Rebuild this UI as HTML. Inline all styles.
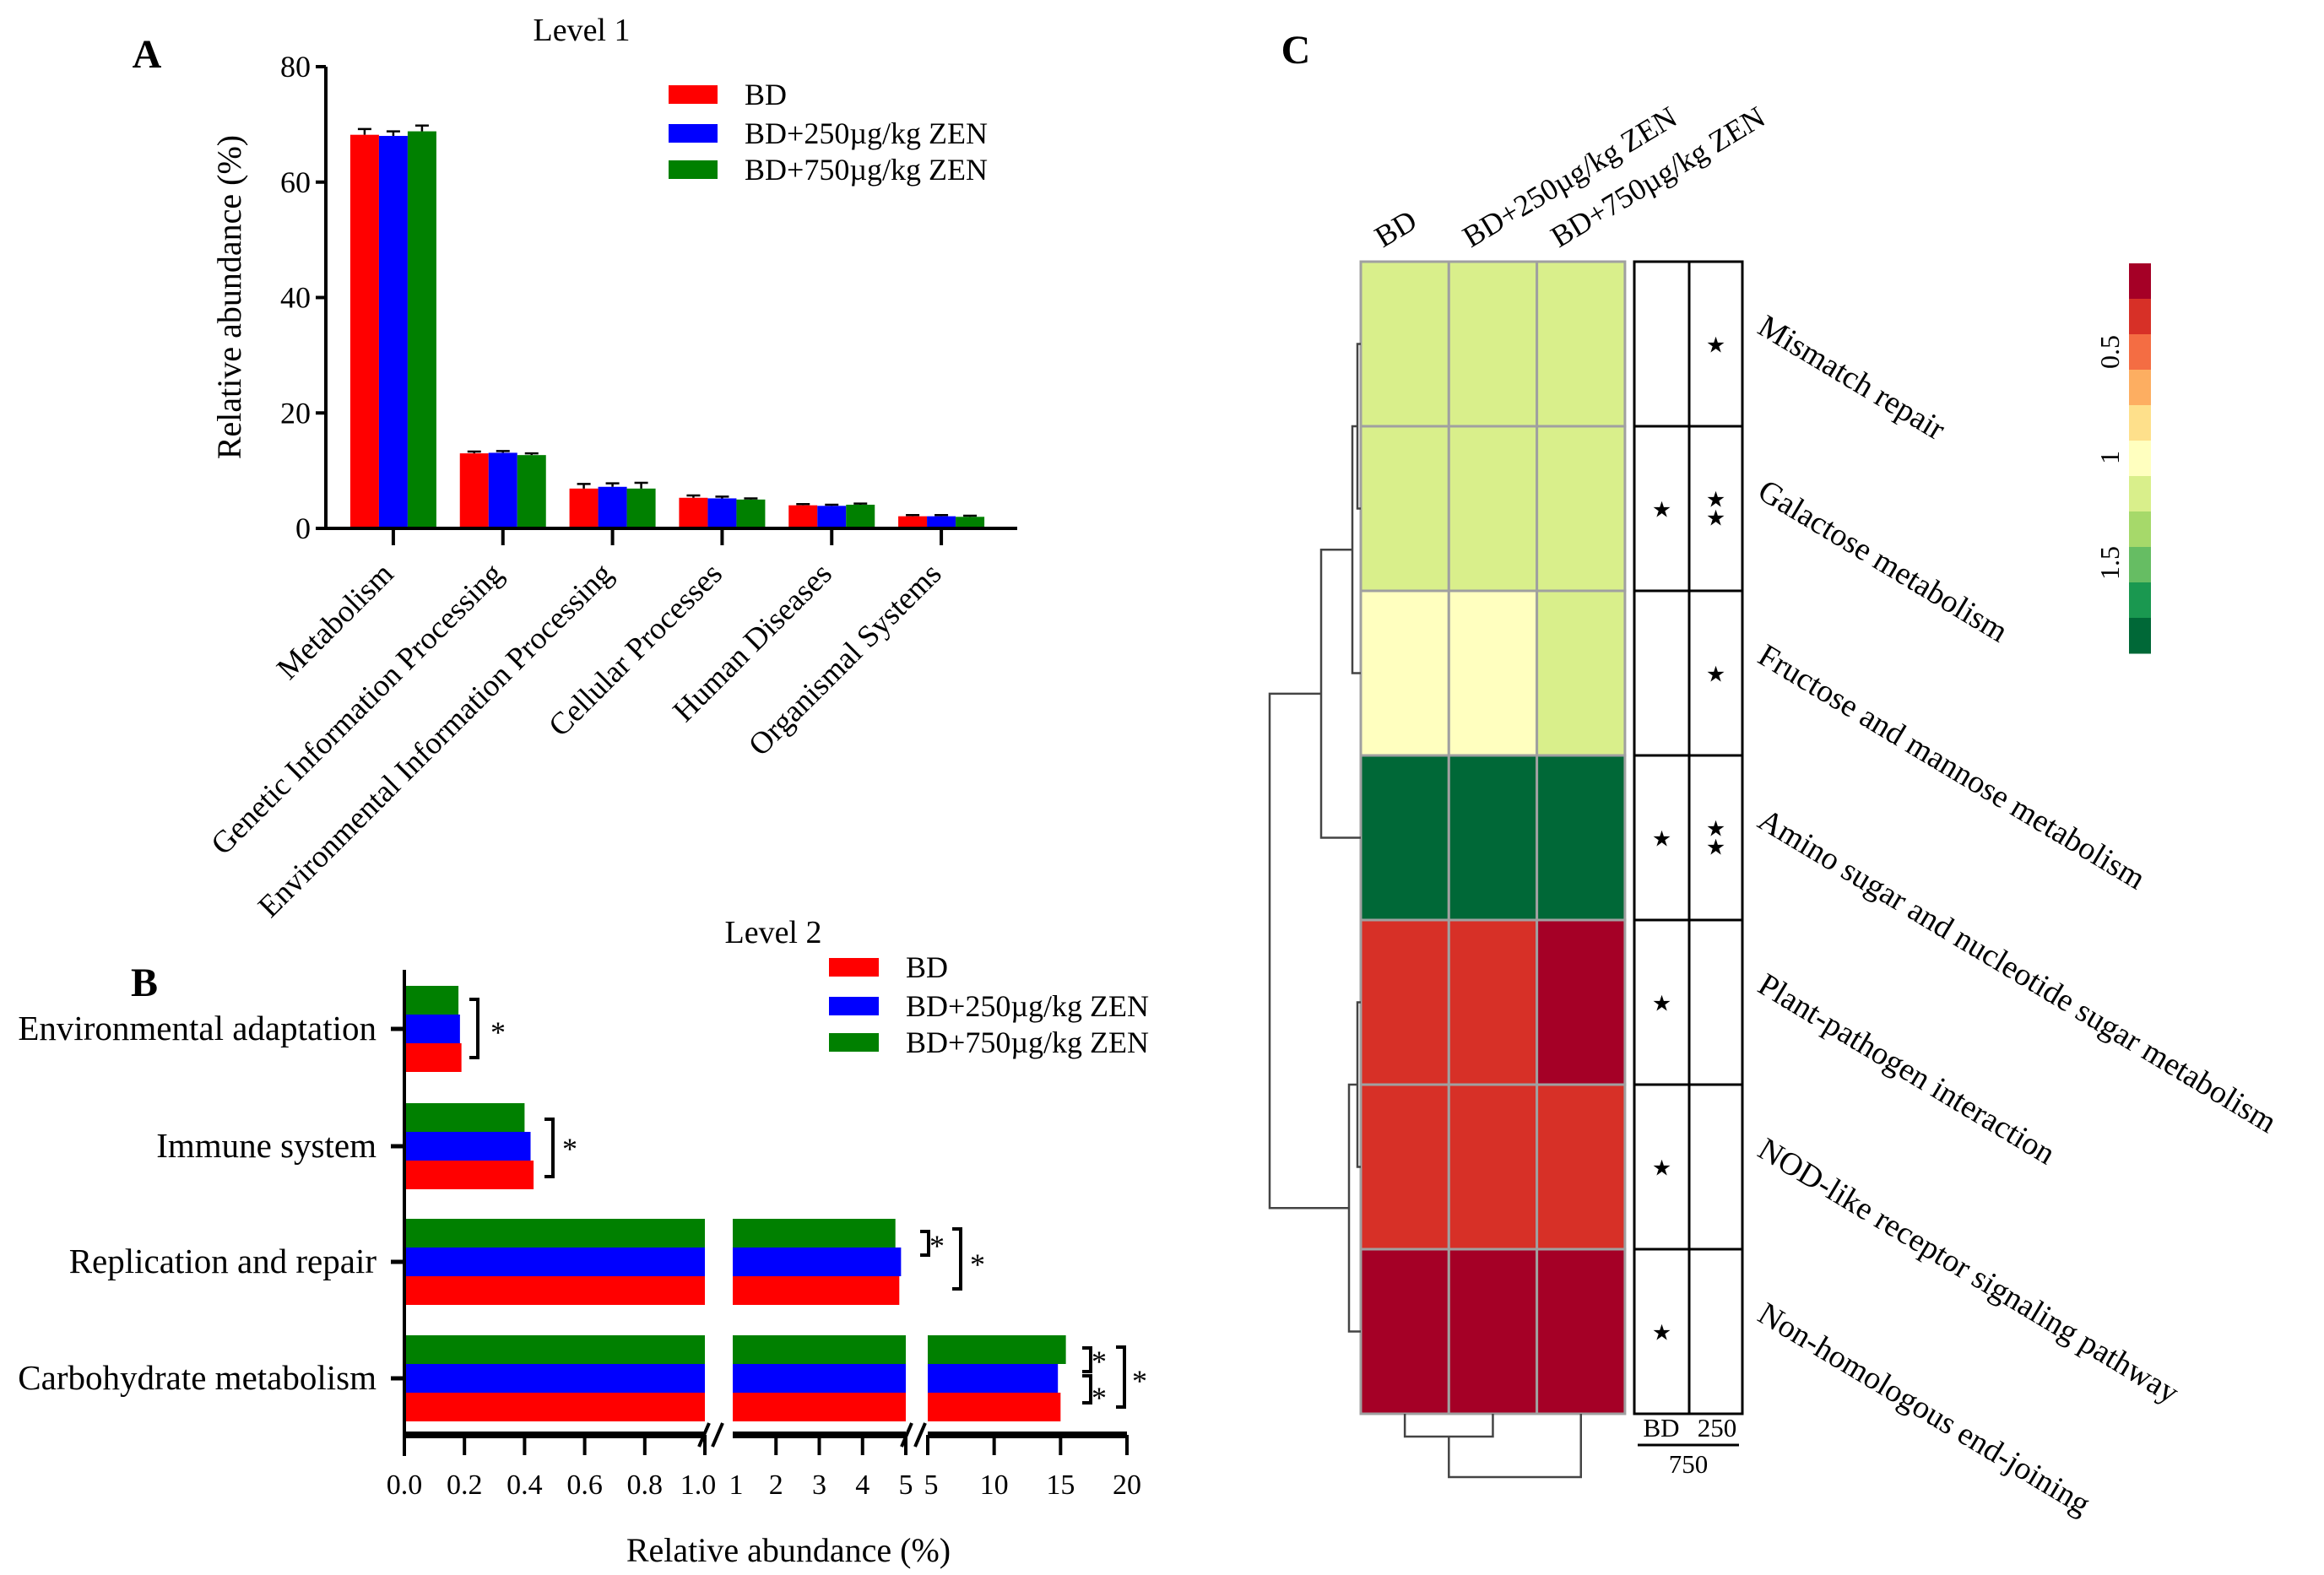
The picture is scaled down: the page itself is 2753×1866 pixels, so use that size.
<!DOCTYPE html>
<html><head><meta charset="utf-8"><style>
html,body{margin:0;padding:0;background:#fff}
svg{display:block;font-family:"Liberation Serif",serif}
</style></head><body>
<svg id="fig" width="2753" height="1866" viewBox="0 0 2753 1866" xmlns="http://www.w3.org/2000/svg">
<g id="pa"></g>
<g id="pb"></g>
<g id="pc"></g>
</svg>
<script>
// ---------- Panel A data ----------
const aCategories = ["Metabolism","Genetic Information Processing","Environmental Information Processing","Cellular Processes","Human Diseases","Organismal Systems"];
const aBD = [68.2, 13.0, 6.9, 5.3, 4.0, 2.1];
const a250 = [68.0, 13.1, 7.2, 5.2, 3.9, 2.1];
const a750 = [68.8, 12.7, 6.9, 5.0, 4.1, 2.0];
const aErr = [[1.0,0.3,0.8,0.4,0.2,0.2],[0.8,0.3,0.6,0.3,0.2,0.2],[1.0,0.3,1.0,0.2,0.2,0.2]];
const aTicks = [0,20,40,60,80];
const seriesNames = ["BD","BD+250µg/kg ZEN","BD+750µg/kg ZEN"];
const colors = ["#ff0000","#0000ff","#008000"];

// ---------- Panel B data ----------
const bCategories = ["Environmental adaptation","Immune system","Replication and repair","Carbohydrate metabolism"];
const bBD = [0.19, 0.43, 4.85, 15.0];
const b250 = [0.185, 0.42, 4.89, 14.8];
const b750 = [0.18, 0.40, 4.76, 15.4];
const bTicks1 = ["0.0","0.2","0.4","0.6","0.8","1.0"];
const bTicks2 = ["1","2","3","4","5"];
const bTicks3 = ["5","10","15","20"];

// ---------- Panel C data ----------
const cRows = ["Mismatch repair","Galactose metabolism","Fructose and mannose metabolism","Amino sugar and nucleotide sugar metabolism","Plant-pathogen interaction","NOD-like receptor signaling pathway","Non-homologous end-joining"];
const cCols = ["BD","BD+250µg/kg ZEN","BD+750µg/kg ZEN"];
const cValues = [[1.2,1.2,1.2],[1.2,1.2,1.2],[1.0,1.0,1.2],[2.0,2.0,2.0],[0.3,0.3,0.1],[0.3,0.3,0.3],[0.1,0.1,0.1]];
const cSigBD = [0,1,0,1,1,1,1];
const cSig250 = [1,2,1,2,0,0,0];
const cScaleColors = ["#a50026","#d73027","#f46d43","#fdae61","#fee08b","#ffffbf","#d9ef8b","#a6d96a","#66bd63","#1a9850","#006837"];
const cScaleTicks = ["0.5","1","1.5"];

const NS="http://www.w3.org/2000/svg";
function mk(parent,tag,attrs,text){const e=document.createElementNS(NS,tag);for(const k in attrs)e.setAttribute(k,attrs[k]);if(text!==undefined)e.textContent=text;parent.appendChild(e);return e;}

// ===== Panel A =====
(function(){
const g=document.getElementById('pa');
const x0=386,x1=1205,y0=626,yTop=79;
const ya=v=>y0-(v/80)*(y0-yTop);
const grpW=(x1-x0-40)/aCategories.length;
const gc=i=>x0+20+grpW*(i+0.5)-5;
const bw=34;
let t;
t=mk(g,'text',{x:174,y:80,'font-size':48,'font-weight':'bold','text-anchor':'middle'},'A');

t=mk(g,'text',{x:689,y:48,'font-size':38,'text-anchor':'middle'},'Level 1');

t=mk(g,'text',{x:0,y:0,'font-size':40,'text-anchor':'middle',transform:'translate(285,352) rotate(-90)'},'Relative abundance (%)');

const series=[aBD,a250,a750];
series.forEach((s,si)=>{s.forEach((v,i)=>{
 const x=gc(i)+(si-1)*bw-bw/2;
 const r=mk(g,'rect',{x:x,y:ya(v),width:bw,height:y0-ya(v),fill:colors[si]});
 
 const ey=ya(v+aErr[si][i]);
 const l=mk(g,'path',{d:`M${x+bw/2},${ya(v)}V${ey}M${x+bw/2-8},${ey}H${x+bw/2+8}`,stroke:'#000','stroke-width':2.5,fill:'none'});
 
});});
let ax=mk(g,'path',{d:`M${x0},${yTop}V${y0}H${x1}`,stroke:'#000','stroke-width':4,fill:'none'});

aTicks.forEach(v=>{
 const tk=mk(g,'path',{d:`M${x0-12},${ya(v)}H${x0}`,stroke:'#000','stroke-width':4});
 
 const tl=mk(g,'text',{x:x0-18,y:ya(v)+12,'font-size':36,'text-anchor':'end'},String(v));
 
});
aCategories.forEach((c,i)=>{
 const x=gc(i);
 const tk=mk(g,'path',{d:`M${x},${y0}V${y0+20}`,stroke:'#000','stroke-width':4});
 
 const tl=mk(g,'text',{x:0,y:0,'font-size':37,'text-anchor':'end',transform:`translate(${x+2},${y0+56}) rotate(-45)`},c);
 
});
const ly=[112,158,201];
seriesNames.forEach((n,i)=>{
 const r=mk(g,'rect',{x:792,y:ly[i]-11,width:58,height:22,fill:colors[i]});
 
 const tl=mk(g,'text',{x:882,y:ly[i]+12,'font-size':36},n);
 
});
})();

// ===== Panel B =====
(function(){
const g=document.getElementById('pb');
const xA=479,yTop=1149,yAx=1700;
function bx(v){
 if(v<=1) return 479+(v/1)*(835-479);
 if(v<=5) return 868+(v-1)/4*(1073-868);
 return 1099+(v-5)/15*(1335-1099);
}
const cy=[1219,1358,1495,1633];
const bh=34;
let t;
t=mk(g,'text',{x:171,y:1180,'font-size':48,'font-weight':'bold','text-anchor':'middle'},'B');

t=mk(g,'text',{x:916,y:1117,'font-size':38,'text-anchor':'middle'},'Level 2');

const series=[b750,b250,bBD];const sc=[colors[2],colors[1],colors[0]];
series.forEach((s,si)=>{s.forEach((v,i)=>{
 const y=cy[i]-1.5*bh+si*bh;
 const segs=[[0,1],[1,5],[5,20]];
 segs.forEach(([a,b],k)=>{
  if(v<=a && k>0) return;
  const xs=(k==0)?bx(0):(k==1?868:1099);
  const xe=(v>=b)?(k==0?835:(k==1?1073:1335)):bx(v);
  const r=mk(g,'rect',{x:xs,y:y,width:Math.max(0,xe-xs),height:bh,fill:sc[si]});
  
 });
});});
let ax=mk(g,'path',{d:`M${xA},${yTop}V${yAx+25}`,stroke:'#000','stroke-width':4,fill:'none'});

[[479,835],[868,1073],[1099,1335]].forEach(([a,b])=>{
 const l=mk(g,'path',{d:`M${a},${yAx}H${b}`,stroke:'#000','stroke-width':8});
 
});
[[840],[1080]].forEach(([x])=>{
 const l=mk(g,'path',{d:`M${x-12},${yAx+14}L${x},${yAx-14}M${x+4},${yAx+14}L${x+16},${yAx-14}`,stroke:'#000','stroke-width':4});
 
});
const FS=34;
const addTick=(v,lab,dx)=>{
 const x=bx(v);
 const tk=mk(g,'path',{d:`M${x},${yAx}V${yAx+24}`,stroke:'#000','stroke-width':4});
 
 const tl=mk(g,'text',{x:x+(dx||0),y:1770,'font-size':FS,'text-anchor':'middle'},lab);
 
};
bTicks1.forEach(l=>addTick(parseFloat(l),l,l==="1.0"?-8:0));
bTicks2.forEach((l,i)=>{if(i==0){const tl=mk(g,'text',{x:872,y:1770,'font-size':FS,'text-anchor':'middle'},l);}else{const x=868+(parseFloat(l)-1)/4*(1073-868);const tk=mk(g,'path',{d:`M${x},${yAx}V${yAx+24}`,stroke:'#000','stroke-width':4});const tl=mk(g,'text',{x:x,y:1770,'font-size':FS,'text-anchor':'middle'},l);}});
bTicks3.forEach((l,i)=>{const x=1099+(parseFloat(l)-5)/15*(1335-1099);const tk=mk(g,'path',{d:`M${x},${yAx}V${yAx+24}`,stroke:'#000','stroke-width':4});const tl=mk(g,'text',{x:x+(i==0?4:0),y:1770,'font-size':FS,'text-anchor':'middle'},l);});
t=mk(g,'text',{x:934,y:1850,'font-size':40,'text-anchor':'middle'},'Relative abundance (%)');

bCategories.forEach((c,i)=>{
 const tk=mk(g,'path',{d:`M${xA-16},${cy[i]}H${xA}`,stroke:'#000','stroke-width':5});
 
 const tl=mk(g,'text',{x:446,y:cy[i]+13,'font-size':41,'text-anchor':'end'},c);
 
});
const ly=[1146,1192,1235];
seriesNames.forEach((n,i)=>{
 const r=mk(g,'rect',{x:982,y:ly[i]-11,width:59,height:22,fill:colors[i]});
 
 const tl=mk(g,'text',{x:1073,y:ly[i]+12,'font-size':36},n);
 
});
const br=(x,ya,yb,sx,sy)=>{
 const p=mk(g,'path',{d:`M${x-10},${ya}H${x}V${yb}H${x-10}`,stroke:'#000','stroke-width':4,fill:'none'});
 
 const s=mk(g,'text',{x:sx,y:sy,'font-size':36,'text-anchor':'middle'},'*');
 
};
br(566,1184,1253,590,1235);
br(655,1326,1394,675,1373);
br(1100,1459,1487,1110,1488);
br(1138,1456,1527,1158,1510);
br(1292,1597,1625,1302,1625);
br(1292,1630,1662,1302,1668);
br(1332,1596,1667,1350,1648);
})();

// ===== Panel C =====
(function(){
const g=document.getElementById('pc');
const hx=1612,hy=310,cw=104.3,rh=195;
const colorOf=v=>cScaleColors[Math.max(0,Math.min(10,Math.floor(v/2*11)))];
let t;
t=mk(g,'text',{x:1535,y:75,'font-size':48,'font-weight':'bold','text-anchor':'middle'},'C');

cValues.forEach((row,r)=>row.forEach((v,c)=>{
 const e=mk(g,'rect',{x:hx+c*cw,y:hy+r*rh,width:cw,height:rh,fill:colorOf(v),stroke:'#a0a0a0','stroke-width':3});
 
}));
cCols.forEach((c,i)=>{
 const tl=mk(g,'text',{x:0,y:0,'font-size':36,transform:`translate(${hx+i*cw+26},${hy-16}) rotate(-31)`},c);
 
});
const sx0=1936,sx1=2001,sx2=2064;
const box=mk(g,'path',{d:`M${sx0},${hy}H${sx2}V${hy+7*rh}H${sx0}Z M${sx1},${hy}V${hy+7*rh}`,stroke:'#000','stroke-width':3,fill:'none'});

for(let r=1;r<7;r++){const l=mk(g,'path',{d:`M${sx0},${hy+r*rh}H${sx2}`,stroke:'#000','stroke-width':3});}
const star=(x,y)=>{const s=mk(g,'text',{x:x,y:y,'font-size':26,'text-anchor':'middle'},'★');};
cRows.forEach((n,r)=>{
 const cyy=hy+r*rh+rh/2;
 if(cSigBD[r]) star((sx0+sx1)/2,cyy+10);
 if(cSig250[r]==1) star((sx1+sx2)/2,cyy+10);
 if(cSig250[r]==2){star((sx1+sx2)/2,cyy-2);star((sx1+sx2)/2,cyy+20);}
 const tl=mk(g,'text',{x:0,y:0,'font-size':38,transform:`translate(2080,${cyy-14}) rotate(31)`},n);
 
});
t=mk(g,'text',{x:1968,y:1702,'font-size':31,'text-anchor':'middle'},'BD');
t=mk(g,'text',{x:2034,y:1702,'font-size':31,'text-anchor':'middle'},'250');
t=mk(g,'path',{d:'M1940,1712H2060',stroke:'#000','stroke-width':3});
t=mk(g,'text',{x:2000,y:1745,'font-size':31,'text-anchor':'middle'},'750');
const rc=r=>hy+r*rh+rh/2;
const y12=(rc(0)+rc(1))/2, y123=(y12+rc(2))/2, y1234=(y123+rc(3))/2, y56=(rc(4)+rc(5))/2, y567=(y56+rc(6))/2;
const dd=`M${hx},${rc(0)}H1608V${rc(1)}H${hx} M1608,${y12}H1602V${rc(2)}H${hx} M1602,${y123}H1565V${rc(3)}H${hx} M${hx},${rc(4)}H1608V${rc(5)}H${hx} M1608,${y56}H1598V${rc(6)}H${hx} M1565,${y1234}H1504V${y567}H1598`;
t=mk(g,'path',{d:dd,stroke:'#444','stroke-width':2.5,fill:'none'});
const cc=c=>hx+c*cw+cw/2, yb=hy+7*rh;
const cd=`M${cc(0)},${yb}V1702H${cc(1)}V${yb} M${(cc(0)+cc(1))/2},1702V1750H${cc(2)}V${yb}`;
t=mk(g,'path',{d:cd,stroke:'#444','stroke-width':2.5,fill:'none'});
const cbTop=312,cbBot=774,segH=(cbBot-cbTop)/cScaleColors.length;
cScaleColors.forEach((c,i)=>{const r=mk(g,'rect',{x:2522,y:cbTop+i*segH,width:26,height:segH+0.5,fill:c});});
const cbY=v=>292+250*v;
cScaleTicks.forEach(l=>{const tl=mk(g,'text',{x:0,y:0,'font-size':32,'text-anchor':'middle',transform:`translate(2510,${cbY(parseFloat(l))}) rotate(-90)`},l);});
})();
</script>
</body></html>
